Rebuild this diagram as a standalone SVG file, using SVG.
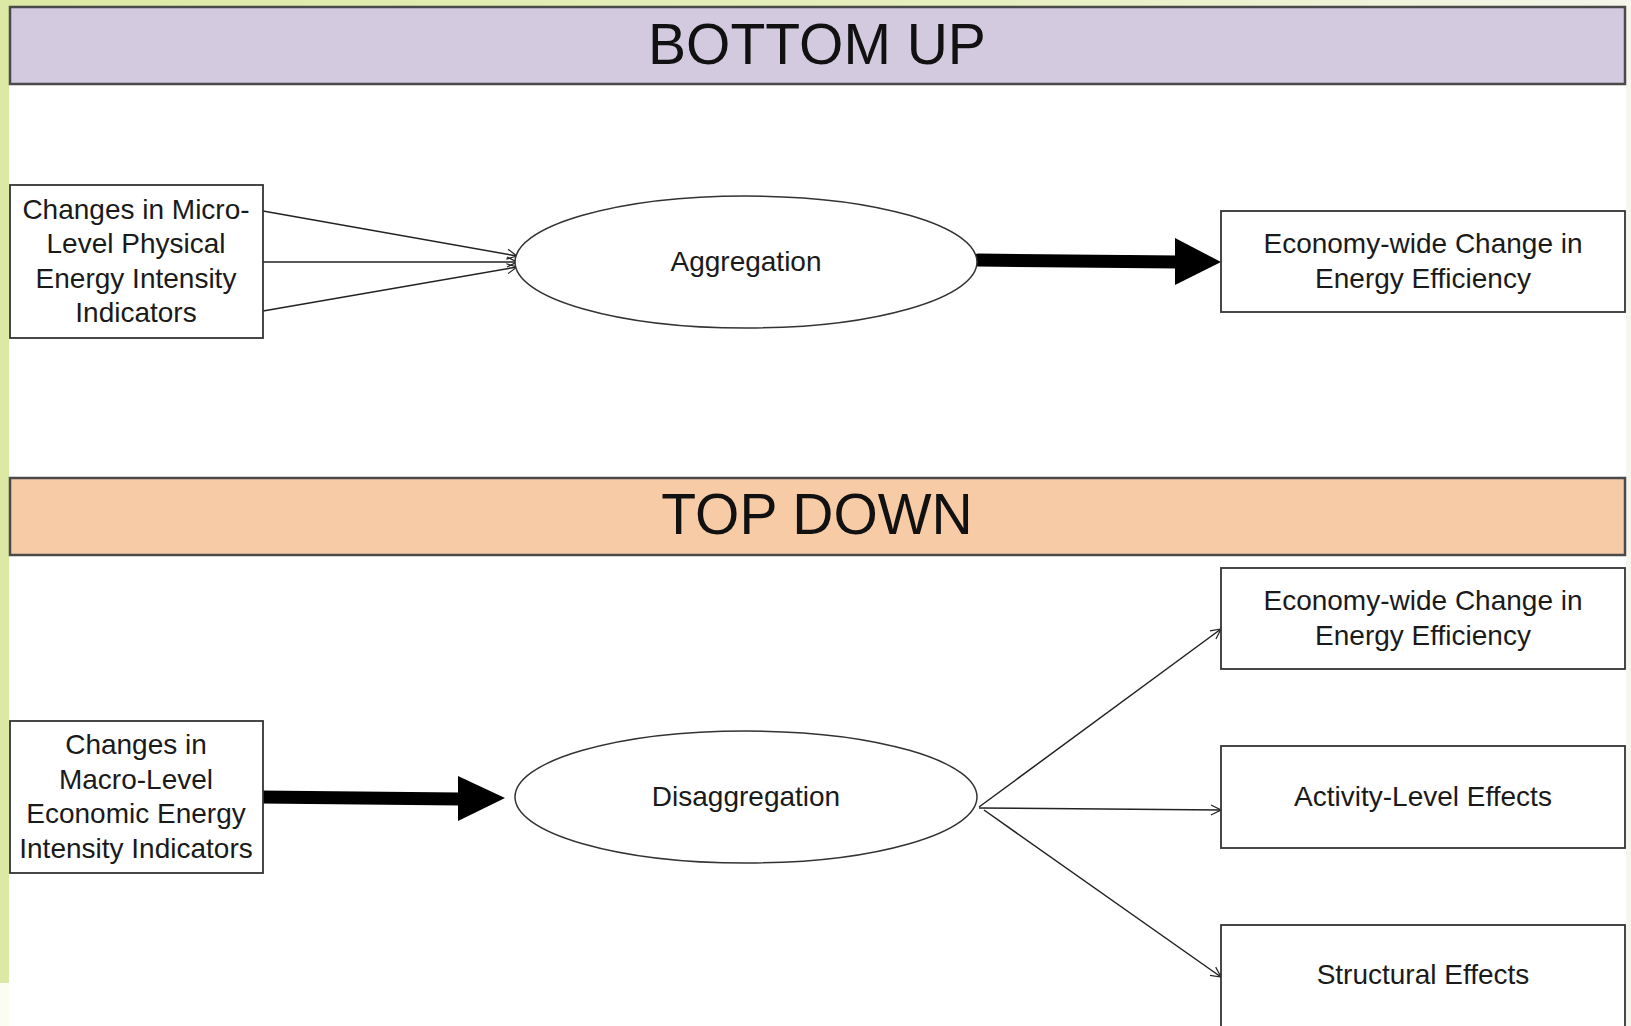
<svg xmlns="http://www.w3.org/2000/svg" width="1631" height="1026" viewBox="0 0 1631 1026">
<defs>
<linearGradient id="topg" x1="0" y1="0" x2="1" y2="0">
<stop offset="0" stop-color="#dce9a4"/>
<stop offset="0.6" stop-color="#e6efbf"/>
<stop offset="1" stop-color="#f4f6ea"/>
</linearGradient>
<marker id="open" viewBox="0 0 12 12" refX="11" refY="6" markerWidth="12" markerHeight="12" markerUnits="userSpaceOnUse" orient="auto">
<path d="M1,1 L11,6 L1,11" fill="none" stroke="#222" stroke-width="1.2"/>
</marker>
<style>
.banner{stroke:#4a4a4a;stroke-width:2.5}
.title{font-family:"Liberation Sans",Arial,sans-serif;font-size:57px;fill:#111;text-anchor:middle}
.box{fill:#fff;stroke:#333;stroke-width:1.8}
.ell{fill:#fff;stroke:#333;stroke-width:1.5}
.t{font-family:"Liberation Sans",Arial,sans-serif;font-size:28px;fill:#1a1a1a;text-anchor:middle}
.thin{stroke:#222;stroke-width:1.5;fill:none;marker-end:url(#open)}
.thick{stroke:#000;stroke-width:13;stroke-linecap:round;fill:none}
</style>
</defs>
<rect x="0" y="0" width="1631" height="1026" fill="#fff"/>
<rect x="0" y="0" width="1631" height="8" fill="url(#topg)"/>
<rect x="0" y="0" width="9" height="983" fill="#dce9a4"/>
<rect x="0" y="983" width="9" height="43" fill="#fbfcf2"/>
<rect x="1626" y="0" width="5" height="1026" fill="#f5f7ee"/>

<g id="banner-bottom-up">
<rect class="banner" x="10" y="7" width="1615" height="77" fill="#d3cadf"/>
<text class="title" x="817" y="64">BOTTOM UP</text>
</g>
<g id="banner-top-down">
<rect class="banner" x="10" y="478" width="1615" height="77" fill="#f8cba7"/>
<text class="title" x="817" y="534">TOP DOWN</text>
</g>

<g id="connectors">
<line class="thin" x1="263" y1="211" x2="517" y2="256"/>
<line class="thin" x1="263" y1="262" x2="517" y2="262"/>
<line class="thin" x1="263" y1="311" x2="517" y2="267"/>
<line class="thick" x1="978" y1="260" x2="1178" y2="262"/>
<polygon points="1175,238 1221,262 1175,285" fill="#000"/>
<line class="thick" x1="260" y1="797" x2="460" y2="799"/>
<polygon points="458,776 505,798 458,821" fill="#000"/>
<line class="thin" x1="979" y1="807" x2="1221" y2="629"/>
<line class="thin" x1="979" y1="808" x2="1221" y2="810"/>
<line class="thin" x1="984" y1="810" x2="1221" y2="977"/>
</g>

<g id="node-micro">
<rect class="box" x="10" y="185" width="253" height="153"/>
<text class="t" x="136" y="219">Changes in Micro-</text>
<text class="t" x="136" y="253">Level Physical</text>
<text class="t" x="136" y="288">Energy Intensity</text>
<text class="t" x="136" y="322">Indicators</text>
</g>
<g id="node-aggregation">
<ellipse class="ell" cx="746" cy="262" rx="231" ry="66"/>
<text class="t" x="746" y="271">Aggregation</text>
</g>
<g id="node-economy-1">
<rect class="box" x="1221" y="211" width="404" height="101"/>
<text class="t" x="1423" y="253">Economy-wide Change in</text>
<text class="t" x="1423" y="288">Energy Efficiency</text>
</g>

<g id="node-macro">
<rect class="box" x="10" y="721" width="253" height="152"/>
<text class="t" x="136" y="754">Changes in</text>
<text class="t" x="136" y="789">Macro-Level</text>
<text class="t" x="136" y="823">Economic Energy</text>
<text class="t" x="136" y="858">Intensity Indicators</text>
</g>
<g id="node-disaggregation">
<ellipse class="ell" cx="746" cy="797" rx="231" ry="66"/>
<text class="t" x="746" y="806">Disaggregation</text>
</g>
<g id="node-economy-2">
<rect class="box" x="1221" y="568" width="404" height="101"/>
<text class="t" x="1423" y="610">Economy-wide Change in</text>
<text class="t" x="1423" y="645">Energy Efficiency</text>
</g>
<g id="node-activity">
<rect class="box" x="1221" y="746" width="404" height="102"/>
<text class="t" x="1423" y="806">Activity-Level Effects</text>
</g>
<g id="node-structural">
<rect class="box" x="1221" y="925" width="404" height="110"/>
<text class="t" x="1423" y="984">Structural Effects</text>
</g>
</svg>
